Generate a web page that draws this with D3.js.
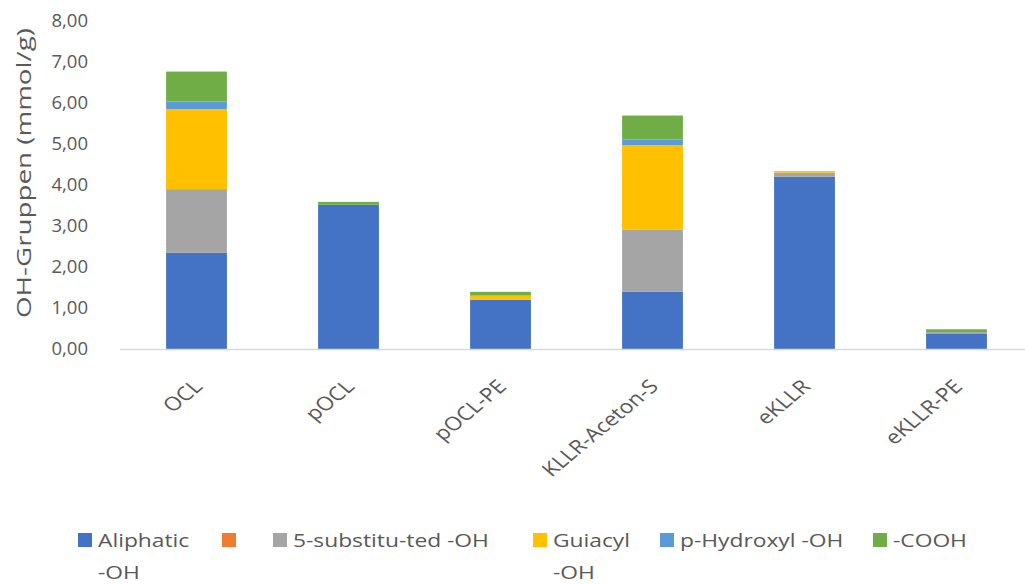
<!DOCTYPE html>
<html>
<head>
<meta charset="utf-8">
<script src="https://cdn.jsdelivr.net/npm/d3@7"></script>
<style>
  html, body { margin: 0; padding: 0; background: #fff; }
  svg { display: block; font-family: "Open Sans", "Noto Sans", sans-serif; }
</style>
</head>
<body>
<svg id="chart" width="1025" height="584"></svg>
<script>
// Samples on the category axis
const categories = ["OCL", "pOCL", "pOCL-PE", "KLLR-Aceton-S", "eKLLR", "eKLLR-PE"];

// OH group contents per sample (mmol/g), stacked bottom to top
const aliphatic    = [2.34, 3.51, 1.20, 1.39, 4.19, 0.38];
const unnamed      = [0, 0, 0, 0, 0, 0];
const substituted5 = [1.55, 0, 0, 1.52, 0.10, 0.03];
const guiacyl      = [1.95, 0, 0.10, 2.05, 0.04, 0];
const pHydroxyl    = [0.18, 0, 0, 0.14, 0, 0];
const cooh         = [0.73, 0.07, 0.09, 0.58, 0, 0.07];

// Series names as shown in the legend (line breaks as separate lines)
const seriesNames = [["Aliphatic", "-OH"], [""], ["5-substitu-ted -OH"], ["Guiacyl", "-OH"], ["p-Hydroxyl -OH"], ["-COOH"]];
const seriesKeys = ["aliphatic", "unnamed", "substituted5", "guiacyl", "pHydroxyl", "cooh"];

// Value axis ticks
const yTicks = [0, 1, 2, 3, 4, 5, 6, 7, 8];
const yTitle = "OH-Gruppen (mmol/g)";

// ---- styling / layout ----
const colors = ["#4472C4", "#ED7D31", "#A5A5A5", "#FFC000", "#5B9BD5", "#70AD47"];
const textColor = "#595959";
const legendX = [78, 222, 273, 533, 660, 873];
const wide = 1.2; // horizontal widening of label glyphs

const seriesValues = [aliphatic, unnamed, substituted5, guiacyl, pHydroxyl, cooh];
const table = categories.map((c, i) => {
  const row = { category: c };
  seriesKeys.forEach((k, j) => { row[k] = seriesValues[j][i]; });
  return row;
});

const svg = d3.select("#chart");

const x = d3.scaleBand()
  .domain(categories)
  .range([120.5, 1032.5])
  .paddingInner(0.6)
  .paddingOuter(0.3);

const y = d3.scaleLinear()
  .domain([0, 8])
  .range([349, 20.2]);

const stacked = d3.stack().keys(seriesKeys)(table);

// bars
svg.append("g")
  .selectAll("g")
  .data(stacked)
  .join("g")
  .attr("fill", (d, i) => colors[i])
  .selectAll("rect")
  .data(d => d)
  .join("rect")
  .attr("x", d => x(d.data.category))
  .attr("width", x.bandwidth())
  .attr("y", d => y(d[1]))
  .attr("height", d => Math.max(0, y(d[0]) - y(d[1])));

// category axis baseline
svg.append("line")
  .attr("x1", 120).attr("x2", 1025)
  .attr("y1", y(0) + 0.5).attr("y2", y(0) + 0.5)
  .attr("stroke", "#D9D9D9")
  .attr("stroke-width", 1.5);

// value axis labels
const yAxis = d3.axisLeft(y)
  .tickValues(yTicks)
  .tickSize(0)
  .tickPadding(0)
  .tickFormat(d => d3.format(".2f")(d).replace(".", ","));

const gy = svg.append("g")
  .attr("transform", "translate(88,0)")
  .call(yAxis);
gy.select(".domain").remove();
gy.selectAll("text")
  .attr("fill", textColor)
  .style("font-size", "18.5px")
  .style("font-family", "'Open Sans', sans-serif");

// category labels, rotated
svg.append("g")
  .selectAll("text")
  .data(categories)
  .join("text")
  .attr("transform", d => `translate(${x(d) + x.bandwidth() / 2 + 1.5},383) scale(${wide},1) rotate(-45)`)
  .attr("text-anchor", "end")
  .attr("dy", "0.35em")
  .attr("fill", textColor)
  .style("font-size", "19px")
  .text(d => d);

// value axis title
svg.append("text")
  .attr("transform", "translate(24,173) rotate(-90)")
  .attr("text-anchor", "middle")
  .attr("dy", "0.35em")
  .attr("fill", textColor)
  .attr("textLength", 290)
  .attr("lengthAdjust", "spacingAndGlyphs")
  .style("font-size", "19.5px")
  .text(yTitle);

// legend
const legend = svg.append("g")
  .selectAll("g")
  .data(seriesNames)
  .join("g")
  .attr("transform", (d, i) => `translate(${legendX[i]},540)`);

legend.append("rect")
  .attr("x", 0).attr("y", -7)
  .attr("width", 14).attr("height", 14)
  .attr("fill", (d, i) => colors[i]);

legend.each(function(lines) {
  const t = d3.select(this).append("text")
    .attr("transform", `translate(20,0) scale(${wide},1)`)
    .attr("fill", textColor)
    .style("font-size", "19px");
  lines.forEach((line, k) => {
    t.append("tspan")
      .attr("x", 0)
      .attr("y", k * 32)
      .attr("dy", "0.35em")
      .text(line);
  });
});
</script>
</body>
</html>
